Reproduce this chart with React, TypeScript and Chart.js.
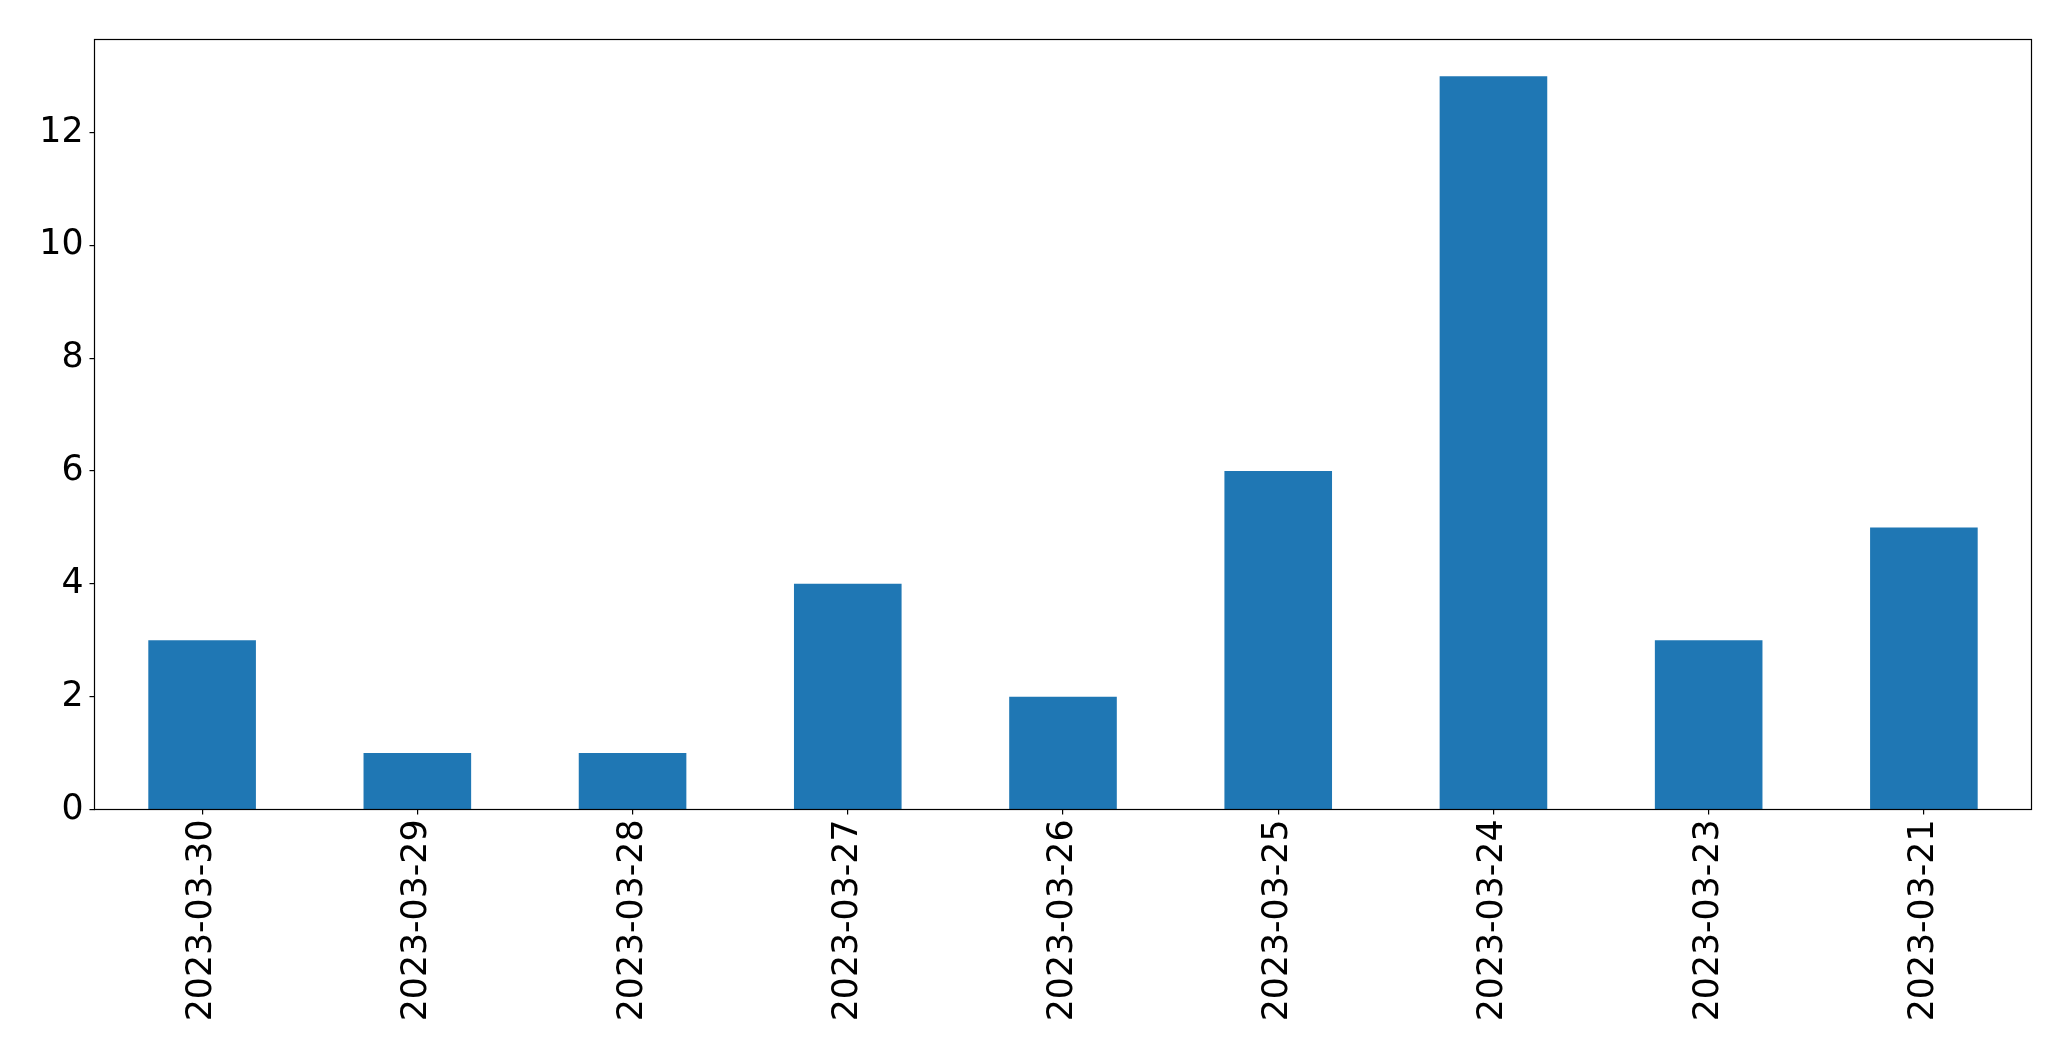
import React, { useEffect, useRef } from "react";
import { Chart, registerables } from "chart.js";

Chart.register(...registerables);

const categories = [
  "2023-03-30",
  "2023-03-29",
  "2023-03-28",
  "2023-03-27",
  "2023-03-26",
  "2023-03-25",
  "2023-03-24",
  "2023-03-23",
  "2023-03-21",
];
const counts = [3, 1, 1, 4, 2, 6, 13, 3, 5];
const yMax = 13.65;
const yStep = 2;

const W = 2071;
const H = 1061;
const FONT = "DejaVu Sans";
const FSIZE = 34.72;

const frame = {
  id: "frame",
  afterDraw(chart: any) {
    const { ctx, chartArea: a } = chart;
    ctx.save();
    ctx.strokeStyle = "#000";
    ctx.lineWidth = 1.2;
    ctx.strokeRect(a.left, a.top, a.right - a.left, a.bottom - a.top);
    ctx.restore();
  },
};

export default function App() {
  const ref = useRef<HTMLCanvasElement>(null);
  useEffect(() => {
    if (!ref.current) return;
    const chart = new Chart(ref.current, {
      type: "bar",
      data: {
        labels: categories,
        datasets: [
          {
            data: counts,
            backgroundColor: "#1f77b4",
            borderWidth: 0,
            barPercentage: 0.5,
            categoryPercentage: 1,
          },
        ],
      },
      plugins: [frame],
      options: {
        responsive: false,
        animation: false,
        devicePixelRatio: 1,
        layout: { padding: { left: 0, top: 39.5, right: 39.5, bottom: 0 } },
        plugins: {
          legend: { display: false },
          tooltip: { enabled: false },
        },
        scales: {
          x: {
            offset: true,
            grid: {
              offset: false,
              display: true,
              drawOnChartArea: false,
              drawTicks: true,
              tickLength: 5,
              color: "#000",
              lineWidth: 1.2,
            },
            border: { display: false },
            ticks: {
              autoSkip: false,
              minRotation: 90,
              maxRotation: 90,
              padding: 5,
              color: "#000",
              font: { family: FONT, size: FSIZE },
            },
            afterFit: (s: any) => {
              s.height = H - 809.5;
            },
          },
          y: {
            min: 0,
            max: yMax,
            grid: {
              display: true,
              drawOnChartArea: false,
              drawTicks: true,
              tickLength: 5,
              color: "#000",
              lineWidth: 1.2,
            },
            border: { display: false },
            ticks: {
              stepSize: yStep,
              includeBounds: false,
              padding: 6,
              color: "#000",
              font: { family: FONT, size: FSIZE },
            },
            afterFit: (s: any) => {
              s.width = 94.5;
            },
          },
        },
      },
    } as any);
    return () => chart.destroy();
  }, []);
  return (
    <div style={{ position: "fixed", left: 0, top: 0, width: W, height: H, background: "#fff" }}>
      <canvas ref={ref} width={W} height={H} style={{ width: W, height: H, display: "block" }} />
    </div>
  );
}
